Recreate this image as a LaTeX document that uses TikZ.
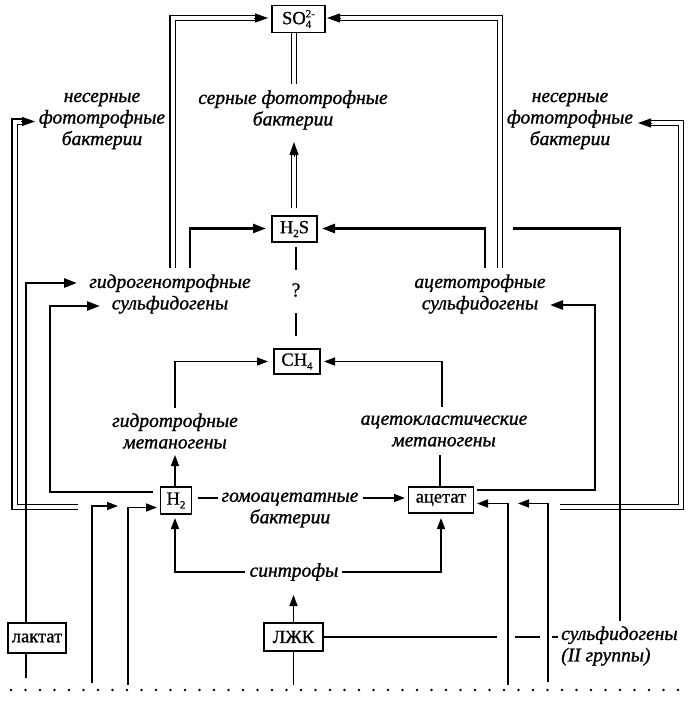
\documentclass[tikz,border=0pt]{standalone}
\usepackage{fontspec}
\setmainfont{Liberation Serif}
\newfontfamily\boxfont{Liberation Serif}[FakeBold=0.8]
\newfontfamily\lblfont{Liberation Serif Italic}[FakeBold=1.2]
\usetikzlibrary{arrows.meta,calc}
\newcommand\dsub[1]{\raisebox{-0.45ex}{\fontsize{11}{11}\selectfont #1}}
\newcommand\dsup[1]{\raisebox{0.8ex}{\fontsize{11}{11}\selectfont #1}}
\begin{document}
\begin{tikzpicture}[x=1pt,y=-1pt,
  box/.style={draw, line width=1.4pt, inner sep=0pt, font=\fontsize{18.5}{20}\boxfont},
  lbl/.style={align=center, inner sep=0pt, font=\fontsize{19.5}{21.5}\lblfont},
  thk/.style={line width=2.6pt},
  thn/.style={line width=1.5pt},
  mid/.style={line width=2pt},
  dbl/.style={line width=1.1pt, double=white, double distance=4pt},
  tipbig/.style={-{Triangle[length=13pt,width=9pt]}},
  tipsm/.style={-{Triangle[length=11pt,width=8pt]}},
]
\useasboundingbox (0,0) rectangle (692,702);

% boxes
\node[box, minimum width=53pt, minimum height=27pt] (so4) at (298.5,19) {SO\rlap{\dsub{4}}\dsup{2-}};
\node[box, minimum width=45pt, minimum height=26pt] (h2s) at (294.5,229) {H\dsub{2}S};
\node[box, minimum width=46pt, minimum height=25pt] (ch4) at (297,361.5) {CH\dsub{4}};
\node[box, minimum width=31pt, minimum height=27pt] (h2) at (176,500.5) {H\dsub{2}};
\node[box, minimum width=65pt, minimum height=26pt] (ac) at (441,500) {ацетат};
\node[box, minimum width=58pt, minimum height=30pt] (lac) at (37,638) {лактат};
\node[box, minimum width=59pt, minimum height=28pt] (lzk) at (293.5,637) {ЛЖК};

% labels
\node[lbl] (sfb) at (293,110) {серные фототрофные\\бактерии};
\node[lbl] (nfl) at (102,121) {несерные\\фототрофные\\бактерии};
\node[lbl] (nfr) at (570,121) {несерные\\фототрофные\\бактерии};
\node[lbl] (hsd) at (170,294) {гидрогенотрофные\\сульфидогены};
\node[lbl] (asd) at (480,294) {ацетотрофные\\сульфидогены};
\node[lbl] (hmg) at (175,431) {гидротрофные\\метаногены};
\node[lbl] (amg) at (444,431) {ацетокластические\\метаногены};
\node[lbl] (hab) at (290,510) {гомоацетатные\\бактерии};
\node[lbl] (syn) at (294,572) {синтрофы};
\node[lbl, align=left, anchor=west] (sd2) at (561,646) {сульфидогены\\(II группы)};
\node[inner sep=0pt, font=\fontsize{20}{20}\boxfont] (q) at (296,290) {?};

% named free ends
\coordinate (hsdA) at (172.5,268);
\coordinate (hsdB) at (190,268);
\coordinate (asdA) at (500,268);
\coordinate (asdB) at (485,268);
\coordinate (sd2top) at (620,621);
\coordinate (in1) at (92,683);
\coordinate (in2) at (128,685);
\coordinate (in3) at (508,685);
\coordinate (in4) at (548,682);
\coordinate (lacbot) at (26,678);
\coordinate (lzkbot) at (293.5,685);

% double lines to SO4
\draw[dbl] (hsdA) |- (255,18);
\draw[line width=1pt, tipbig] (254,18) -- (268,18);
\draw[dbl] (asdA) |- (340,18);
\draw[line width=1pt, tipbig] (341,18) -- (327,18);

% H2S -> sulfur phototrophs -> SO4
\draw[dbl] (294,208) -- (294,155);
\draw[line width=1pt, tipbig] (294,157) -- (294,142);
\draw[dbl] (294,84) -- (294,32.5);

% nonsulfur phototrophs (left / right)
\draw[dbl] (78,507) -| (14.5,121.5) -- (22,121.5);
\draw[line width=1pt, tipbig] (21,121.5) -- (35,121.5);
\draw[dbl] (560,507) -| (681,123) -- (650,123);
\draw[line width=1pt, tipbig] (651,123) -- (638,123);

% sulfidogens -> H2S
\draw[thk, tipbig] (hsdB) |- (266,228.5);
\draw[thk, tipbig] (asdB) |- (322,228.5);
\draw[thk] (sd2top) |- (513,228.5);

% lactate
\draw[thk, tipbig] (lac.north -| lacbot) |- (77,283);
\draw[thk] (lac.south -| lacbot) -- (lacbot);

% H2 -> hydrogenotrophic sulfidogens
\draw[thk, tipbig] (153,492) -| (50,306) -- (100,306);

% inputs to H2
\draw[thn, tipsm] (in1) |- (118,506);
\draw[thn, tipsm] (in2) |- (157,507.5);

% inputs to acetate
\draw[thn, tipsm] (in3) |- (477,503.5);
\draw[thn, tipsm] (in4) |- (518,503.5);

% acetate -> acetotrophic sulfidogens
\draw[thk, tipbig] (477,490) -| (595,305) -- (550,305);

% methanogens
\draw[thn, tipsm] (h2.north -| 175,0) -- (175,455);
\draw[thn, tipsm] (175,408) |- (268,361.5);
\draw[thn] (ac.north -| 440,0) -- (440,455);
\draw[thn, tipsm] (442,407) |- (324,361.5);

% syntrophs
\draw[thn, tipsm] (245,572) -| (175,518);
\draw[thn, tipsm] (342,572) -| (441,518);
\draw[thn, tipsm] (lzk.north) -- (293.5,595);
\draw[thn] (lzk.south) -- (lzkbot);

% LJK -> sulfidogens II
\draw[mid] (lzk.east) -- (497,637);
\draw[mid] (515,637) -- (540,637);
\draw[mid] (552,637) -- (558,637);

% homoacetogens
\draw[thn] (198,498) -- (218,498);
\draw[thn, tipsm] (363,498) -- (405,498);

% CH4 - ? - H2S
\draw[thk] (296,247) -- (296,270);
\draw[thk] (296,313) -- (296,336);

% dotted line
\foreach \i in {0,...,46} \fill (11+\i*14.5,690) circle (1.3pt);
\end{tikzpicture}
\end{document}
